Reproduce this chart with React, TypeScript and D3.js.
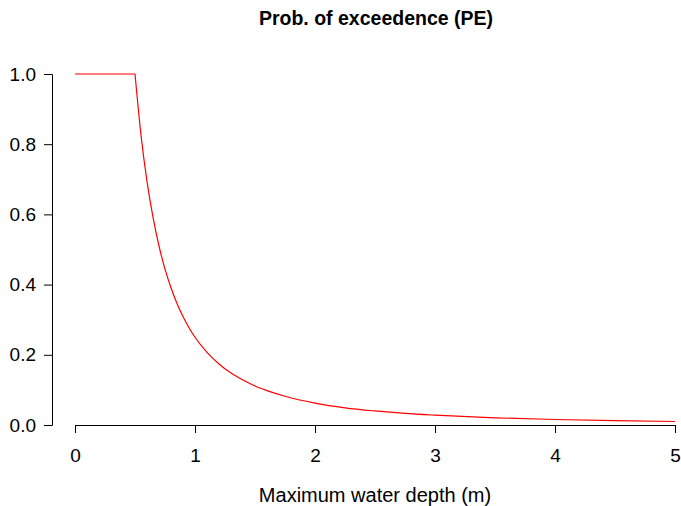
import React, { useRef, useEffect } from "react";
import * as d3 from "d3";

// values
const depths = [0, 0.5, 0.55, 0.6, 0.65, 0.7, 0.75, 0.8, 0.85, 0.9, 0.95, 1.0, 1.1, 1.2, 1.3, 1.4, 1.5, 1.6, 1.75, 2.0, 2.25, 2.5, 2.75, 3.0, 3.5, 4.0, 4.5, 5.0];
const probs = [1, 1, 0.826, 0.694, 0.592, 0.51, 0.444, 0.391, 0.346, 0.309, 0.277, 0.25, 0.207, 0.174, 0.148, 0.128, 0.111, 0.098, 0.082, 0.0625, 0.049, 0.04, 0.033, 0.028, 0.0204, 0.0156, 0.0123, 0.01];
const xTicks = [0, 1, 2, 3, 4, 5];
const yTicks = [0, 0.2, 0.4, 0.6, 0.8, 1.0];

const App: React.FC = () => {
  const ref = useRef<SVGSVGElement | null>(null);

  useEffect(() => {
    document.body.style.margin = "0";
    const svg = d3.select(ref.current);
    svg.selectAll("*").remove();

    const W = 681;
    const H = 506;
    const font = "'Liberation Sans', Arial, sans-serif";

    const x = d3.scaleLinear().domain([0, 5]).range([75, 675]);
    const y = d3.scaleLinear().domain([0, 1]).range([425, 74]);

    svg.attr("width", W).attr("height", H).style("display", "block");
    svg.append("rect").attr("width", W).attr("height", H).attr("fill", "#fff");

    // title
    svg
      .append("text")
      .attr("x", 376)
      .attr("y", 25)
      .attr("text-anchor", "middle")
      .style("font-family", font)
      .style("font-size", "19.5px")
      .style("font-weight", "bold")
      .text("Prob. of exceedence (PE)");

    // x axis
    const gx = svg.append("g").attr("transform", "translate(0,425)");
    gx.call(d3.axisBottom(x).tickValues(xTicks).tickFormat(d3.format("d")).tickSizeOuter(0).tickSize(8).tickPadding(16));
    gx.select(".domain").attr("stroke", "#000").attr("stroke-width", 1);
    gx.selectAll(".tick line").attr("stroke", "#000").attr("stroke-width", 1);
    gx.selectAll("text").style("font-family", font).style("font-size", "19px").attr("fill", "#000");

    // y axis
    const gy = svg.append("g").attr("transform", "translate(52,0)");
    gy.call(d3.axisLeft(y).tickValues(yTicks).tickFormat(d3.format(".1f")).tickSizeOuter(0).tickSize(8).tickPadding(8));
    gy.select(".domain").attr("stroke", "#000").attr("stroke-width", 1);
    gy.selectAll(".tick line").attr("stroke", "#000").attr("stroke-width", 1);
    gy.selectAll("text").style("font-family", font).style("font-size", "19px").attr("fill", "#000");

    // x axis title
    svg
      .append("text")
      .attr("x", 375)
      .attr("y", 502)
      .attr("text-anchor", "middle")
      .style("font-family", font)
      .style("font-size", "20px")
      .text("Maximum water depth (m)");

    const pts = depths.map((d, i) => [d, probs[i]] as [number, number]);
    // flat part and decaying part drawn separately so the corner at 0.5 stays sharp
    const flat = pts.filter((d) => d[0] <= 0.5);
    const decay = pts.filter((d) => d[0] >= 0.5);

    const straight = d3
      .line<[number, number]>()
      .x((d) => x(d[0]))
      .y((d) => y(d[1]));
    const smooth = d3
      .line<[number, number]>()
      .x((d) => x(d[0]))
      .y((d) => y(d[1]))
      .curve(d3.curveMonotoneX);

    svg
      .append("path")
      .attr("fill", "none")
      .attr("stroke", "#ff0000")
      .attr("stroke-width", 1.2)
      .attr("stroke-linejoin", "round")
      .attr("d", (straight(flat) as string) + (smooth(decay) as string).replace(/^M/, "L"));
  }, []);

  return <svg ref={ref} />;
};

export default App;
